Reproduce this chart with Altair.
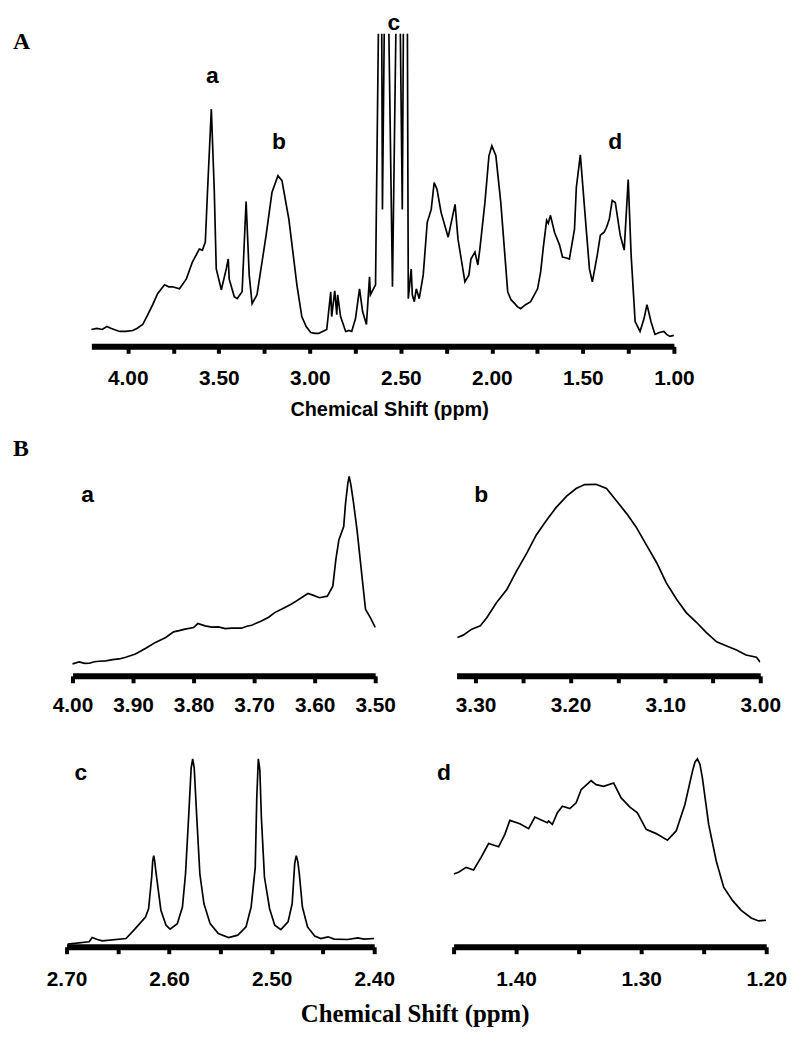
import altair as alt
import pandas as pd

# ---------------- Panel A : full 1H spectrum ----------------
A_ppm = [4.200, 4.170, 4.140, 4.115, 4.090, 4.060, 4.044, 4.010, 3.973, 3.950,
         3.918, 3.890, 3.863, 3.836, 3.798, 3.775, 3.754, 3.716, 3.678, 3.645,
         3.607, 3.590, 3.574, 3.563, 3.541, 3.525, 3.514, 3.486, 3.459, 3.448,
         3.443, 3.415, 3.399, 3.372, 3.350, 3.333, 3.317, 3.290, 3.240, 3.208,
         3.175, 3.153, 3.115, 3.071, 3.044, 3.020, 2.995, 2.970, 2.951, 2.930,
         2.907, 2.885, 2.880, 2.863, 2.852, 2.847, 2.831, 2.803, 2.785, 2.770,
         2.749, 2.727, 2.710, 2.689, 2.672, 2.667, 2.639, 2.634, 2.623, 2.615,
         2.605, 2.601, 2.591, 2.578, 2.566, 2.546, 2.527, 2.513, 2.503, 2.492,
         2.486, 2.477, 2.464, 2.459, 2.443, 2.437, 2.426, 2.415, 2.399, 2.377,
         2.355, 2.333, 2.317, 2.301, 2.279, 2.240, 2.202, 2.186, 2.148, 2.126,
         2.115, 2.093, 2.077, 2.066, 2.038, 2.016, 2.000, 1.978, 1.951, 1.913,
         1.895, 1.874, 1.860, 1.842, 1.815, 1.787, 1.749, 1.732, 1.716, 1.699,
         1.690, 1.678, 1.656, 1.628, 1.612, 1.590, 1.574, 1.546, 1.536, 1.514,
         1.492, 1.464, 1.448, 1.421, 1.404, 1.383, 1.370, 1.355, 1.339, 1.322,
         1.295, 1.273, 1.251, 1.235, 1.213, 1.186, 1.164, 1.148, 1.126, 1.104,
         1.080, 1.055, 1.040, 1.022, 1.000]
A_int = [17, 18, 17, 20, 18, 16, 15, 15, 16, 18,
         22, 32, 42, 53, 62, 60, 60, 58, 68, 85,
         98, 97, 105, 152, 239, 158, 78, 57, 78, 88,
         68, 50, 48, 55, 146, 72, 43, 52, 112, 155,
         172, 167, 128, 62, 30, 20, 14, 13, 13, 15,
         17, 55, 30, 56, 32, 52, 30, 15, 16, 15,
         28, 58, 35, 22, 70, 52, 62, 145, 320, 1500,
         320, 138, 320, 3000, 320, 60, 320, 3000, 320, 138,
         320, 1500, 320, 48, 78, 52, 45, 58, 48, 72,
         125, 138, 165, 158, 135, 110, 143, 108, 65, 72,
         88, 95, 82, 98, 145, 192, 202, 192, 145, 55,
         47, 43, 40, 38, 42, 45, 58, 75, 102, 127,
         124, 132, 115, 102, 90, 89, 88, 118, 160, 193,
         142, 78, 65, 92, 112, 115, 120, 128, 147, 145,
         112, 97, 168, 92, 25, 15, 28, 42, 25, 12,
         14, 15, 12, 10, 11]
A_lbl_text = ["a", "b", "c", "d"]
A_lbl_ppm = [3.536, 3.169, 2.538, 1.322]
A_lbl_int = [265, 199, 319, 199]
A_ticks = [4.0, 3.75, 3.5, 3.25, 3.0, 2.75, 2.5, 2.25, 2.0, 1.75, 1.5, 1.25, 1.0]

# ---------------- Panel B(a) : 4.00 - 3.50 ppm ----------------
a_ppm = [4.000, 3.989, 3.980, 3.972, 3.964, 3.956, 3.945, 3.934, 3.923, 3.912,
         3.896, 3.879, 3.863, 3.846, 3.833, 3.824, 3.814, 3.800, 3.793, 3.781,
         3.770, 3.759, 3.748, 3.737, 3.721, 3.712, 3.704, 3.688, 3.676, 3.666,
         3.650, 3.642, 3.633, 3.622, 3.611, 3.603, 3.592, 3.579, 3.570, 3.565,
         3.560, 3.552, 3.549, 3.545, 3.543, 3.540, 3.536, 3.530, 3.523, 3.516,
         3.508, 3.500]
a_int = [12.0, 14.0, 12.5, 12.7, 14.2, 14.7, 15.0, 16.3, 17.0, 18.7,
         22.0, 27.7, 33.7, 38.7, 44.3, 45.5, 47.0, 48.7, 52.7, 50.3,
         49.0, 49.3, 47.5, 48.0, 48.0, 50.0, 51.0, 55.3, 59.0, 63.7,
         68.7, 71.0, 74.3, 78.7, 83.0, 81.3, 78.7, 80.3, 90.3, 117.0,
         137.0, 150.3, 173.7, 195.0, 201.0, 192.0, 175.3, 147.0, 107.0, 67.0,
         58.7, 48.7]
a_ticks = [4.0, 3.95, 3.9, 3.85, 3.8, 3.75, 3.7, 3.65, 3.6, 3.55, 3.5]

# ---------------- Panel B(b) : 3.32 - 3.00 ppm ----------------
b_ppm = [3.319, 3.313, 3.304, 3.295, 3.288, 3.278, 3.267, 3.257, 3.246, 3.236,
         3.225, 3.215, 3.204, 3.194, 3.185, 3.173, 3.162, 3.152, 3.141, 3.131,
         3.120, 3.109, 3.099, 3.088, 3.078, 3.067, 3.057, 3.046, 3.036, 3.025,
         3.015, 3.004, 3.000]
b_int = [38.7, 41.0, 47.0, 50.3, 58.7, 73.7, 87.0, 105.3, 123.7, 142.0,
         157.0, 169.7, 181.0, 188.7, 192.7, 193.0, 188.7, 177.0, 163.7, 150.3,
         132.0, 113.7, 93.7, 77.0, 63.7, 53.7, 43.7, 34.3, 30.3, 26.0,
         21.0, 18.7, 13.7]
b_ticks = [3.3, 3.25, 3.2, 3.15, 3.1, 3.05, 3.0]

# ---------------- Panel B(c) : 2.70 - 2.40 ppm ----------------
c_ppm = [2.699, 2.678, 2.675, 2.670, 2.665, 2.642, 2.633, 2.623, 2.620, 2.617,
         2.6160, 2.615, 2.6140, 2.613, 2.608, 2.603, 2.599, 2.592, 2.587, 2.584,
         2.581, 2.5785, 2.577, 2.5755, 2.573, 2.570, 2.566, 2.560, 2.552, 2.542,
         2.533, 2.525, 2.520, 2.516, 2.5145, 2.513, 2.5115, 2.510, 2.507, 2.502,
         2.497, 2.491, 2.484, 2.480, 2.4775, 2.476, 2.4745, 2.473, 2.470, 2.465,
         2.458, 2.452, 2.445, 2.439, 2.426, 2.416, 2.410, 2.400]
c_int = [2.7, 5.0, 9.3, 7.3, 6.0, 8.3, 18.3, 30.0, 38.3, 70.0,
         86.0, 91.7, 86.0, 76.7, 36.7, 21.7, 17.7, 23.3, 40.0, 73.3,
         130.0, 180.0, 189.3, 180.0, 130.0, 73.3, 43.3, 23.3, 13.3, 9.3,
         11.7, 20.0, 40.0, 80.0, 150.0, 189.3, 178.0, 130.0, 70.0, 38.3,
         21.7, 17.3, 25.0, 43.3, 84.0, 91.7, 86.0, 73.3, 40.0, 20.0,
         10.7, 8.3, 10.0, 7.7, 7.3, 9.0, 7.7, 8.3]
c_ticks = [2.7, 2.65, 2.6, 2.55, 2.5, 2.45, 2.4]

# ---------------- Panel B(d) : 1.45 - 1.20 ppm ----------------
d_ppm = [1.450, 1.446, 1.440, 1.434, 1.428, 1.422, 1.414, 1.409, 1.405, 1.397,
         1.390, 1.385, 1.379, 1.375, 1.374, 1.371, 1.367, 1.363, 1.357, 1.352,
         1.348, 1.340, 1.336, 1.330, 1.322, 1.316, 1.309, 1.303, 1.296, 1.288,
         1.279, 1.272, 1.265, 1.259, 1.257, 1.255, 1.253, 1.251, 1.246, 1.240,
         1.234, 1.227, 1.220, 1.212, 1.206, 1.200]
d_int = [73.3, 75.0, 80.0, 77.3, 90.0, 104.0, 100.7, 113.3, 127.3, 124.0,
         119.0, 130.7, 127.3, 125.0, 126.7, 123.3, 135.0, 141.7, 139.3, 145.0,
         158.3, 167.3, 163.3, 161.7, 165.0, 150.0, 140.7, 135.0, 118.3, 114.0,
         107.3, 116.7, 143.3, 176.7, 186.0, 189.3, 184.0, 170.0, 123.3, 86.7,
         60.0, 46.7, 36.7, 29.0, 26.0, 26.7]
d_ticks = [1.45, 1.4, 1.35, 1.3, 1.25, 1.2]

sub_lbl_text = ["a", "b", "c", "d"]
sub_lbl_ppm = [3.975, 3.294, 2.686, 1.4576]
sub_lbl_int = [175, 175, 168, 168]

SANS = "Liberation Sans"
SERIF = "Liberation Serif"

ROW1_H = 248
ROW2_H = 223


def label_expr(step):
    return (f"abs(datum.value*{step} - round(datum.value*{step})) < 0.001 ? "
            "format(datum.value, '.2f') : ''")


def spectrum(ppm, inten, xdom, ticks, step, width, height, ymax,
             lab, lab_ppm, lab_int, lab_pad, xrange=None, title=None,
             lab_size=23, tick_font=21, title_x=None):
    df = pd.DataFrame({"ppm": ppm, "I": inten})
    sk = dict(domain=xdom, nice=False, zero=False)
    if xrange is not None:
        sk["range"] = xrange
    ax = dict(values=ticks, labelExpr=label_expr(step), grid=False,
              domainColor="black", domainWidth=6, tickColor="black",
              tickWidth=4, tickSize=7, labelFont=SANS, labelFontWeight="bold",
              labelFontSize=tick_font, labelColor="black", labelPadding=lab_pad,
              labelFlush=False, labelOverlap=False)
    if title:
        ax.update(title=title, titleFont=SANS, titleFontWeight="bold",
                  titleFontSize=20, titleColor="black", titlePadding=12)
        if title_x is not None:
            ax["titleX"] = title_x
    else:
        ax["title"] = None
    x = alt.X("ppm:Q", scale=alt.Scale(**sk), axis=alt.Axis(**ax))
    y = alt.Y("I:Q", scale=alt.Scale(domain=[0, ymax], nice=False, zero=False),
              axis=None)
    line = alt.Chart(df).mark_line(color="black", strokeWidth=1.7,
                                   clip=True).encode(x=x, y=y)
    ldf = pd.DataFrame({"ppm": lab_ppm, "I": lab_int, "t": lab})
    txt = alt.Chart(ldf).mark_text(font=SANS, fontWeight="bold",
                                   fontSize=lab_size, baseline="alphabetic",
                                   align="center", color="black").encode(
        x="ppm:Q", y="I:Q", text="t:N")
    return alt.layer(line, txt).properties(width=width, height=height)


def letter(t, dx, offset):
    return alt.TitleParams(t, anchor="start", frame="group", font=SERIF,
                           fontSize=24, fontWeight="bold", baseline="alphabetic",
                           dx=dx, offset=offset, color="black")


chartA = spectrum(A_ppm, A_int, [4.2, 1.0], A_ticks, 2, 612, 315, 315,
                  A_lbl_text, A_lbl_ppm, A_lbl_int, 14, xrange=[25, 612],
                  title="Chemical Shift (ppm)", title_x=325).properties(
    title=letter("A", -54, -61))

pa = spectrum(a_ppm, a_int, [4.0, 3.5], a_ticks, 10, 313, ROW1_H, ROW1_H,
              [sub_lbl_text[0]], [sub_lbl_ppm[0]], [sub_lbl_int[0]], 12,
              xrange=[6, 311]).properties(title=letter("B", -54, -50))
pb = spectrum(b_ppm, b_int, [3.32, 3.0], b_ticks, 10, 306, ROW1_H, ROW1_H,
              [sub_lbl_text[1]], [sub_lbl_ppm[1]], [sub_lbl_int[1]], 12)
pc = spectrum(c_ppm, c_int, [2.7, 2.4], c_ticks, 10, 310, ROW2_H, ROW2_H,
              [sub_lbl_text[2]], [sub_lbl_ppm[2]], [sub_lbl_int[2]], 15).properties(
    title=alt.TitleParams("Chemical Shift (ppm)", orient="bottom",
                          anchor="start", frame="group", font=SERIF,
                          fontSize=25, fontWeight="bold", baseline="alphabetic",
                          dx=236, offset=33, color="black"))
pd_ = spectrum(d_ppm, d_int, [1.45, 1.2], d_ticks, 10, 315, ROW2_H, ROW2_H,
               [sub_lbl_text[3]], [sub_lbl_ppm[3]], [sub_lbl_int[3]], 15)

row1 = alt.hconcat(pa, pb, spacing=80, bounds="flush")
row2 = alt.hconcat(pc, pd_, spacing=80, bounds="flush")

chart = alt.vconcat(chartA, row1, row2, spacing=10).properties(
    padding={"left": 5, "top": 0, "right": 5, "bottom": 5},
).configure_view(stroke=None)

chart.save("out.html", embed_options={"renderer": "svg", "actions": False})
